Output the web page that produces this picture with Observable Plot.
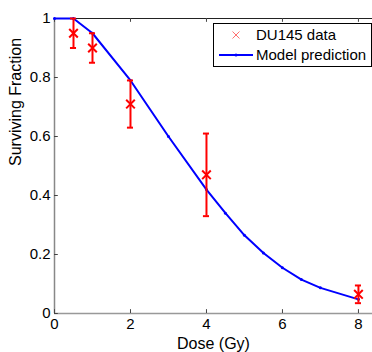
<!DOCTYPE html>
<html>
<head>
<meta charset="utf-8">
<script src="https://cdn.jsdelivr.net/npm/d3@7"></script>
<script src="https://cdn.jsdelivr.net/npm/@observablehq/plot@0.6"></script>
<style>
  html, body { margin: 0; padding: 0; background: #fff; }
  #chart svg { font-family: "Liberation Sans", Arial, sans-serif; display: block; }
</style>
</head>
<body>
<div id="chart"></div>
<script>
// Measured data (DU145)
const doseData = [0.5, 1, 2, 4, 8];
const sfData   = [0.95, 0.90, 0.71, 0.47, 0.065];
const sfLow    = [0.90, 0.85, 0.63, 0.33, 0.035];
const sfHigh   = [1.00, 0.95, 0.79, 0.61, 0.095];

// Model prediction
const doseModel = [0, 0.5, 1, 2, 3, 4, 4.5, 5, 5.5, 6, 6.5, 7, 8];
const sfModel   = [1, 1, 0.95, 0.79, 0.60, 0.42, 0.34, 0.265, 0.205, 0.155, 0.115, 0.087, 0.048];

const xTicks = [0, 2, 4, 6, 8];
const yTicks = [0, 0.2, 0.4, 0.6, 0.8, 1];
const yTickLabels = ["0", "0.2", "0.4", "0.6", "0.8", "1"];

const data = doseData.map((d, i) => ({dose: d, sf: sfData[i], lo: sfLow[i], hi: sfHigh[i]}));
const model = doseModel.map((d, i) => ({dose: d, sf: sfModel[i]}));

const capHalf = 0.08;

const plot = Plot.plot({
  width: 372,
  height: 352,
  marginLeft: 54,
  marginRight: 0,
  marginTop: 18,
  marginBottom: 39,
  style: {fontSize: "15px", fontFamily: "Liberation Sans, Arial, sans-serif", color: "#000", background: "#fff"},
  x: {domain: [0, 8.37]},
  y: {domain: [0, 1]},
  marks: [
    // frame lines
    Plot.ruleY([1], {stroke: "#222", strokeWidth: 1}),
    Plot.ruleY([0], {stroke: "#999", strokeWidth: 1.5}),
    Plot.ruleX([0], {stroke: "#888", strokeWidth: 1.5}),
    // inward ticks
    Plot.ruleX(xTicks, {x: d => d, y1: 0, y2: 0.013, stroke: "#444"}),
    Plot.ruleX(xTicks, {x: d => d, y1: 1, y2: 0.987, stroke: "#444"}),
    Plot.ruleY(yTicks, {y: d => d, x1: 0, x2: 0.1, stroke: "#444"}),
    Plot.axisX({ticks: xTicks, tickSize: 0, tickPadding: 5, label: null, tickFormat: d => String(d)}),
    Plot.axisY({ticks: yTicks, tickSize: 0, tickPadding: 4, label: null, tickFormat: d => yTickLabels[yTicks.indexOf(d)]}),
    // model line
    Plot.line(model, {x: "dose", y: "sf", stroke: "#0000ff", strokeWidth: 2}),
    Plot.dot(model, {x: "dose", y: "sf", r: 1.5, fill: "#0000ff"}),
    // error bars
    Plot.ruleX(data, {x: "dose", y1: "lo", y2: "hi", stroke: "#ff0000", strokeWidth: 2}),
    Plot.ruleY(data, {y: "lo", x1: d => d.dose - capHalf, x2: d => d.dose + capHalf, stroke: "#ff0000", strokeWidth: 2}),
    Plot.ruleY(data, {y: "hi", x1: d => d.dose - capHalf, x2: d => d.dose + capHalf, stroke: "#ff0000", strokeWidth: 2}),
    Plot.dot(data, {x: "dose", y: "sf", symbol: "times", r: 4, stroke: "#ff0000", strokeWidth: 2}),
    // axis labels
    Plot.text(["Dose (Gy)"], {frameAnchor: "bottom", dy: 30, lineAnchor: "middle", fontSize: 16, fill: "#000"}),
    Plot.text(["Surviving Fraction"], {frameAnchor: "left", dx: -39, rotate: -90, fontSize: 16, fill: "#000"})
  ]
});

// Legend inside the SVG
const svg = d3.select(plot);
const lg = svg.append("g")
  .attr("font-family", "Liberation Sans, Arial, sans-serif")
  .attr("font-size", 15)
  .attr("text-anchor", "start");
lg.append("rect").attr("x", 213.5).attr("y", 23.5).attr("width", 158).attr("height", 43)
  .attr("fill", "#fff").attr("stroke", "#000").attr("stroke-width", 1);
const legendItems = [
  {label: "DU145 data", kind: "data"},
  {label: "Model prediction", kind: "model"}
];
legendItems.forEach((it, i) => {
  const cy = 35 + i * 20;
  if (it.kind === "data") {
    const s = 3.5;
    lg.append("path").attr("d", `M${236 - s},${cy - s}L${236 + s},${cy + s}M${236 - s},${cy + s}L${236 + s},${cy - s}`)
      .attr("stroke", "#ff7070").attr("stroke-width", 1).attr("fill", "none");
  } else {
    lg.append("line").attr("x1", 219).attr("x2", 253).attr("y1", cy).attr("y2", cy)
      .attr("stroke", "#0000ff").attr("stroke-width", 2);
    lg.append("circle").attr("cx", 236).attr("cy", cy).attr("r", 1.5).attr("fill", "#0000ff");
  }
  lg.append("text").attr("x", 256).attr("y", cy).attr("dy", "0.35em").attr("text-anchor", "start")
    .attr("fill", "#000").text(it.label);
});

document.getElementById("chart").appendChild(plot);
</script>
</body>
</html>
